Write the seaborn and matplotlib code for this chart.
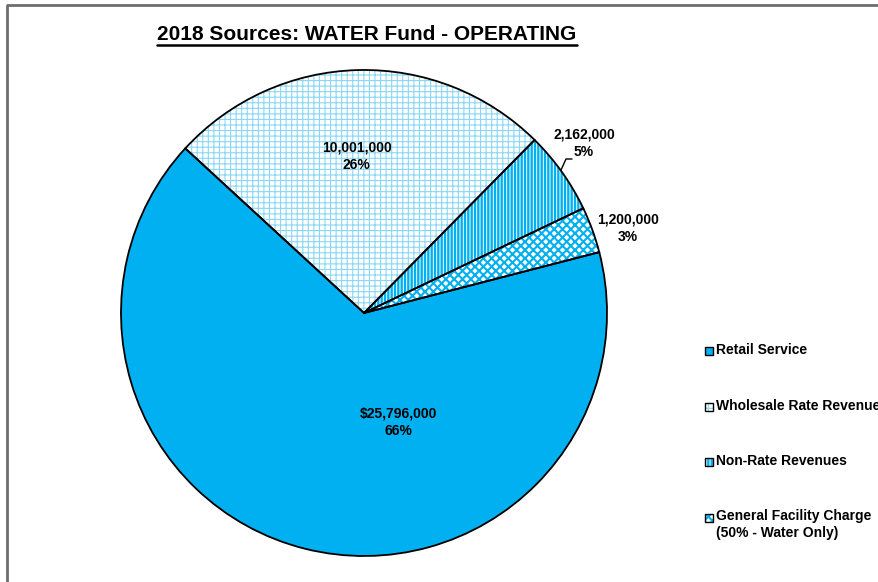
import matplotlib
matplotlib.use("Agg")
import matplotlib.pyplot as plt
import seaborn as sns
from matplotlib.patches import Rectangle
from matplotlib.lines import Line2D

sns.set_theme(style="white")
FONT = ["Liberation Sans Narrow", "Liberation Sans", "DejaVu Sans"]
plt.rcParams["font.family"] = FONT
plt.rcParams["text.color"] = "black"
plt.rcParams["hatch.linewidth"] = 1.0

# ---- data ----
categories = ["Retail Service", "Wholesale Rate Revenue", "Non-Rate Revenues",
              "General Facility Charge\n(50% - Water Only)"]
values = [25796000, 10001000, 2162000, 1200000]
value_labels = ["$25,796,000", "10,001,000", "2,162,000", "1,200,000"]
pct_labels = ["66%", "26%", "5%", "3%"]
title = "2018 Sources: WATER Fund - OPERATING"

# ---- styles ----
face_colors = ["#00B0F0", "white", "white", "white"]
hatches = [None, "+++", "|||||", "xxxx"]
hatch_colors = ["#00B0F0", "#8AD8F5", "#00B0F0", "#00B0F0"]
hatch_lw = [1.0, 0.8, 1.7, 1.5]
label_pos = [(0.14, -0.45), (-0.03, 0.645), (0.905, 0.70), (1.085, 0.35)]

W, H = 879, 582
fig = plt.figure(figsize=(W / 100, H / 100), dpi=100)
fig.patch.set_facecolor("white")

def fx(x):
    return x / W

def fy(y):
    return 1 - y / H

def set_hlw(p, lw):
    if hasattr(p, "set_hatch_linewidth"):
        p.set_hatch_linewidth(lw)

cx, cy, r = 364, 313, 243
ax = fig.add_axes([fx(cx - r), fy(cy + r), 2 * r / W, 2 * r / H])

# layer 1: fills + hatches
wedges, _ = ax.pie(values, startangle=14.5, counterclock=False, radius=1,
                   colors=face_colors)
for w, h, hc, lw in zip(wedges, hatches, hatch_colors, hatch_lw):
    w.set_linewidth(0)
    if h:
        w.set_hatch(h)
        w.set_edgecolor(hc)
        set_hlw(w, lw)
# layer 2: outlines
outl, _ = ax.pie(values, startangle=14.5, counterclock=False, radius=1,
                 colors=["none"] * 4,
                 wedgeprops=dict(edgecolor="black", linewidth=1.3))
ax.set_xlim(-1, 1)
ax.set_ylim(-1, 1)
ax.set_aspect("equal")
ax.axis("off")

for (lx, ly), v, p in zip(label_pos, value_labels, pct_labels):
    ax.text(lx, ly, f"{v}\n{p}", ha="center", va="center", fontsize=10,
            fontweight="bold", color="black", linespacing=1.3)

# leader line for 5% label
ax.add_line(Line2D([(572 - cx) / r, (566 - cx) / r, (561 - cx) / r],
                   [(cy - 159) / r, (cy - 159) / r, (cy - 170) / r],
                   color="black", linewidth=1))

# title with underline
t = fig.text(fx(367), fy(35), title, ha="center", va="center", fontsize=15,
             fontweight="bold", color="black")
fig.canvas.draw()
bb = t.get_window_extent()
fig.add_artist(Line2D([bb.x0 / W, bb.x1 / W], [fy(45), fy(45)],
                      transform=fig.transFigure, color="black", linewidth=1.8))

# legend (manual)
leg_y = [350, 406, 461, 517]
for lab, y, fc, h, hc, lw in zip(categories, leg_y, face_colors, hatches,
                                 hatch_colors, hatch_lw):
    sq = Rectangle((fx(705), fy(y + 4.5)), 8 / W, 8 / H,
                   transform=fig.transFigure, facecolor=fc,
                   edgecolor=hc if h else "black", hatch=h, linewidth=0)
    if h:
        set_hlw(sq, lw)
    fig.add_artist(sq)
    fig.add_artist(Rectangle((fx(705), fy(y + 4.5)), 8 / W, 8 / H,
                             transform=fig.transFigure, facecolor="none",
                             edgecolor="black", linewidth=1))
    if "\n" in lab:
        fig.text(fx(716), fy(y - 8), lab, ha="left", va="top", fontsize=10,
                 fontweight="bold", linespacing=1.3, color="black")
    else:
        fig.text(fx(716), fy(y), lab, ha="left", va="center", fontsize=10,
                 fontweight="bold", color="black")

# border (left and top)
fig.add_artist(Line2D([fx(7), fx(7), fx(W + 5)], [fy(H + 5), fy(5), fy(5)],
                      transform=fig.transFigure, color="#6E6E6E", linewidth=2))

fig.savefig("out.png", dpi=100, facecolor="white")
